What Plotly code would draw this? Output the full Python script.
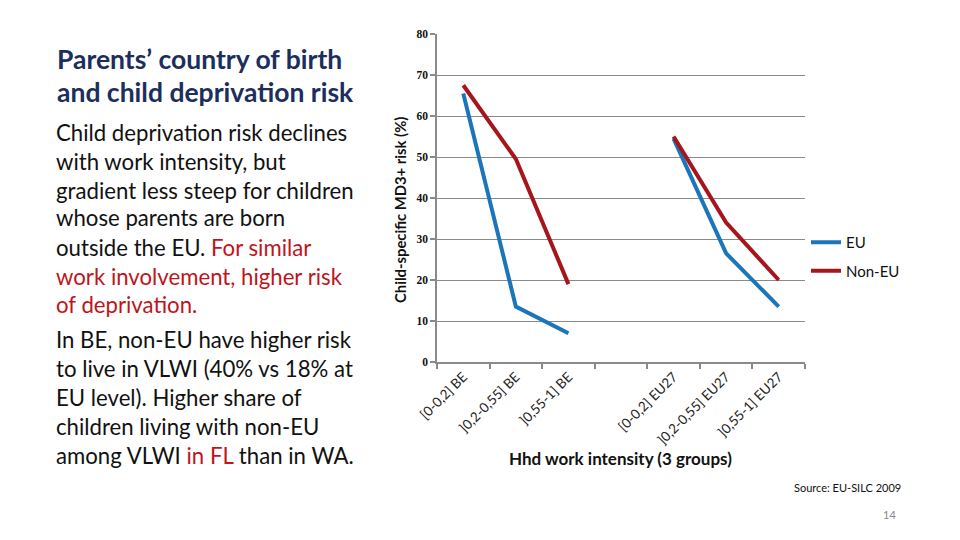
import plotly.graph_objects as go

categories = ["[0-0,2] BE", "]0,2-0,55] BE", "]0,55-1] BE", "",
              "[0-0,2] EU27", "]0,2-0,55] EU27", "]0,55-1] EU27"]
eu_values = [65.5, 13.5, 7.0, None, 54.5, 26.5, 13.5]
non_eu_values = [67.5, 49.5, 19.0, None, 55.0, 34.0, 20.0]
y_ticks = [0, 10, 20, 30, 40, 50, 60, 70, 80]

W, H = 960, 540
x0, x1, yt, yb = 437, 805, 34, 362

def fx(px):
    return px / W

def fy(py):
    return 1 - py / H

xs = list(range(len(categories)))
fig = go.Figure()
fig.add_trace(go.Scatter(x=xs, y=eu_values, mode="lines", name="EU",
                         line=dict(color="#1B75BB", width=4), legendgroup="a",
                         connectgaps=False))
fig.add_trace(go.Scatter(x=xs, y=non_eu_values, mode="lines", name="Non-EU",
                         line=dict(color="#A6151B", width=4), legendgroup="b",
                         connectgaps=False))

grid = "#8a8a8a"
fig.update_layout(
    width=W, height=H,
    margin=dict(l=0, r=0, t=0, b=0, autoexpand=False),
    paper_bgcolor="white", plot_bgcolor="white",
    xaxis=dict(domain=[fx(x0), fx(x1)], range=[-0.5, len(categories) - 0.5],
               automargin=False,
               tickvals=xs, ticktext=categories, tickangle=-45,
               ticks="", showgrid=False, zeroline=False,
               showline=True, linecolor=grid, linewidth=1.5,
               tickfont=dict(family="Lato", size=13.5, color="#222"),
               minor=dict(tickvals=[i - 0.5 for i in range(len(categories) + 1)],
                          ticks="outside", ticklen=5, tickcolor=grid, tickwidth=1.5,
                          showgrid=False)),
    yaxis=dict(domain=[fy(yb), fy(yt)], range=[0, 80], tickvals=y_ticks,
               automargin=False,
               showgrid=True, gridcolor=grid, gridwidth=1.3, zeroline=False,
               showline=True, linecolor=grid, linewidth=1.5,
               ticks="outside", ticklen=5, tickcolor=grid, tickwidth=1.5,
               tickfont=dict(family="Liberation Serif", size=11.5, color="#111",
                             weight="bold")),
    legend=dict(x=fx(806), y=fy(226), xanchor="left", yanchor="top",
                font=dict(family="Lato", size=15, color="#111"),
                tracegroupgap=6, bgcolor="rgba(0,0,0,0)"),
    showlegend=True,
)

annots = []
annots.append(dict(text="<b>Child-specific MD3+ risk (%)</b>", x=fx(400), y=fy(210),
                    textangle=-90, font=dict(family="Lato", size=14.8, color="#111")))
annots.append(dict(text="<b>Hhd work intensity (3 groups)</b>", x=fx(620), y=fy(458),
                   font=dict(family="Lato", size=17, color="#111")))
title_lines = ["Parents’ country of birth", "and child deprivation risk"]
title_y = [59, 92]
for t, yy in zip(title_lines, title_y):
    annots.append(dict(text="<b>" + t + "</b>", x=fx(55), y=fy(yy), xanchor="left",
                       font=dict(family="Lato", size=26.5, color="#1C2E5C")))
red = "#C0141C"
body_lines = [
    "Child deprivation risk declines",
    "with work intensity, but",
    "gradient less steep for children",
    "whose parents are born",
    "outside the EU. <span style='color:%s'>For similar</span>" % red,
    "<span style='color:%s'>work involvement, higher risk</span>" % red,
    "<span style='color:%s'>of deprivation.</span>" % red,
    "In BE, non-EU have higher risk",
    "to live in VLWI (40% vs 18% at",
    "EU level). Higher share of",
    "children living with non-EU",
    "among VLWI <span style='color:%s'>in FL</span> than in WA." % red,
]
body_y = [132, 161, 190, 218, 247, 276, 304, 339, 368, 397, 426, 455]
for t, yy in zip(body_lines, body_y):
    annots.append(dict(text=t, x=fx(54), y=fy(yy), xanchor="left",
                       font=dict(family="Lato", size=22.2, color="#111")))
annots.append(dict(text="Source: EU-SILC 2009", x=fx(792), y=fy(487), xanchor="left",
                   font=dict(family="Lato", size=11, color="#111")))
annots.append(dict(text="14", x=fx(898), y=fy(514),
                   font=dict(family="Lato", size=11, color="#888")))
for a in annots:
    a.setdefault("xref", "paper")
    a.setdefault("yref", "paper")
    a.setdefault("showarrow", False)
    a.setdefault("yanchor", "middle")
fig.update_layout(annotations=annots)

fig.write_html("out.html", config={"displayModeBar": False},
               post_script="document.body.style.margin='0';document.body.style.overflow='hidden';")
